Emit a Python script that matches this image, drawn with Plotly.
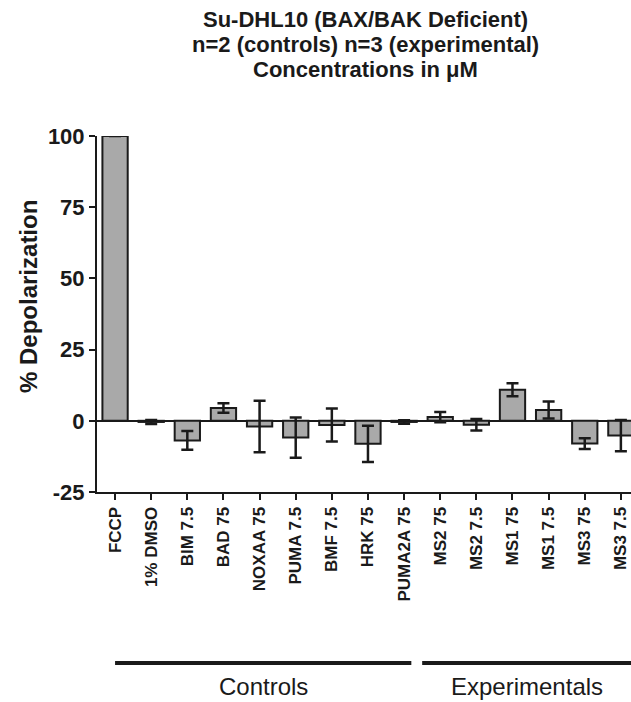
import plotly.graph_objects as go

categories = ["FCCP", "1% DMSO", "BIM 7.5", "BAD 75", "NOXAA 75", "PUMA 7.5",
              "BMF 7.5", "HRK 75", "PUMA2A 75", "MS2 75", "MS2 7.5", "MS1 75",
              "MS1 7.5", "MS3 75", "MS3 7.5"]
values = [100, -0.4, -6.9, 4.5, -2.0, -5.9, -1.5, -8.1, -0.4, 1.3, -1.4, 10.9, 3.8, -8.0, -5.2]
errors = [0, 0.7, 3.3, 1.7, 9.0, 7.1, 5.8, 6.4, 0.6, 1.8, 2.0, 2.3, 3.0, 1.9, 5.5]
y_ticks = [-25, 0, 25, 50, 75, 100]
y_tick_text = ["-25", "0", "25", "50", "75", "100"]
title_lines = ["Su-DHL10 (BAX/BAK Deficient)", "n=2 (controls) n=3 (experimental)",
               "Concentrations in μM"]
group_labels = ["Controls", "Experimentals"]
group_spans = [(0.0, 8.2), (8.5, 15.0)]

FONT = "Liberation Sans, Arial, sans-serif"
INK = "#1a1a1a"

fig = go.Figure()
fig.add_trace(go.Bar(
    x=list(range(len(categories))), y=values, width=0.7,
    marker=dict(color="#a9a9a9", line=dict(color=INK, width=2)),
    error_y=dict(type="data", array=errors, visible=True, color=INK,
                 thickness=2.5, width=6),
    showlegend=False,
))

L, R, T, B = 97, 0, 136, 210
W, H = 631, 702
x_lo, x_hi = -0.5, 14.28

fig.update_layout(
    width=W, height=H,
    margin=dict(l=L, r=R, t=T, b=B, pad=0),
    plot_bgcolor="white", paper_bgcolor="white",
    xaxis=dict(
        range=[x_lo, x_hi], tickmode="array", tickvals=list(range(len(categories))),
        ticktext=categories, tickangle=-90, showgrid=False, zeroline=False,
        showline=True, linecolor=INK, linewidth=2,
        ticks="outside", ticklen=6, tickwidth=2, tickcolor=INK,
        tickfont=dict(family=FONT, size=17, color=INK, weight="bold"),
    ),
    yaxis=dict(
        range=[-25, 100], tickmode="array", tickvals=y_ticks, ticktext=y_tick_text,
        showgrid=False, zeroline=True, zerolinecolor=INK, zerolinewidth=2,
        showline=True, linecolor=INK, linewidth=2,
        ticks="outside", ticklen=6, tickwidth=2, tickcolor=INK,
        tickfont=dict(family=FONT, size=22, color=INK, weight="bold"),
    ),
)

plot_w = W - L - R
plot_h = H - T - B


def cat_to_paper(c):
    return (c - x_lo) / (x_hi - x_lo)


def px_to_paper(px):
    return (px - L) / plot_w


def py_to_paper(py):
    return (H - B - py) / plot_h

# title (three centred lines)
for i, line in enumerate(title_lines):
    fig.add_annotation(
        text=line, showarrow=False, xref="paper", yref="paper",
        x=px_to_paper(365), y=py_to_paper(19 + 25 * i),
        xanchor="center", yanchor="middle",
        font=dict(family=FONT, size=22, color=INK, weight="bold"),
    )

# y-axis title
fig.add_annotation(
    text="% Depolarization", textangle=-90, showarrow=False,
    xref="paper", yref="paper", x=px_to_paper(28), y=py_to_paper(297),
    xanchor="center", yanchor="middle",
    font=dict(family=FONT, size=24, color=INK, weight="bold"),
)

# group brackets and labels
line_y = py_to_paper(663)
for label, (a, b) in zip(group_labels, group_spans):
    x0 = cat_to_paper(a)
    x1 = min(cat_to_paper(b), 1.02)
    fig.add_shape(type="line", xref="paper", yref="paper", x0=x0, x1=x1,
                  y0=line_y, y1=line_y, line=dict(color=INK, width=4))
    xc = (x0 + min(x1, 1.0)) / 2
    fig.add_annotation(
        text=label, showarrow=False, xref="paper", yref="paper",
        x=xc, y=py_to_paper(686), xanchor="center", yanchor="middle",
        borderpad=0, font=dict(family=FONT, size=24, color=INK),
    )

fig.write_html("out.html")
